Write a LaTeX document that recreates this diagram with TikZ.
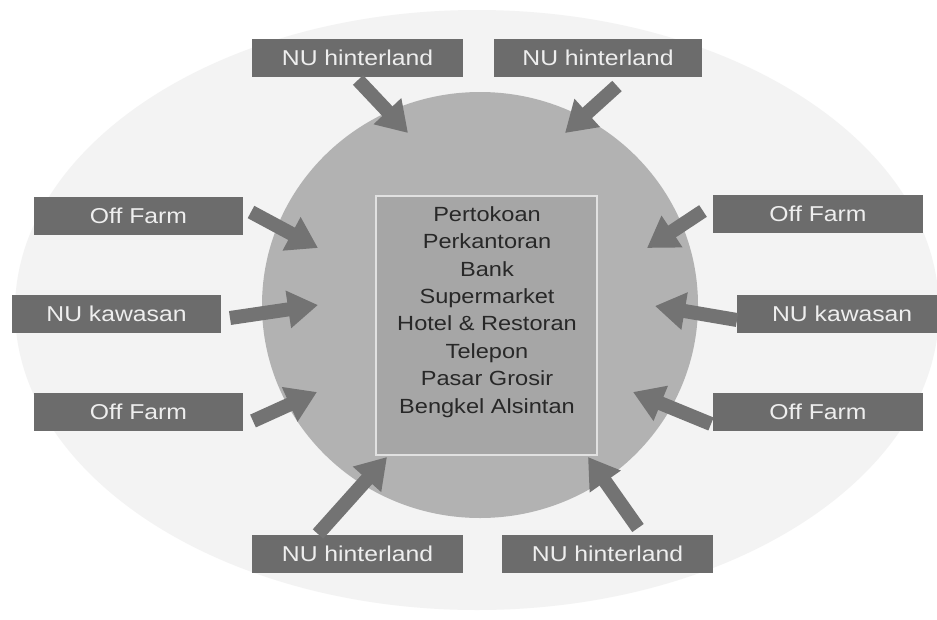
\documentclass[tikz,border=0pt]{standalone}
\usepackage{fontspec}
\setmainfont{Liberation Sans}
\newfontfamily\labfont[FakeStretch=1.15]{Liberation Sans}
\usetikzlibrary{arrows.meta}
\definecolor{outerfill}{RGB}{243,243,243}
\definecolor{corefill}{RGB}{178,178,178}
\definecolor{listfill}{RGB}{166,166,166}
\definecolor{listedge}{RGB}{225,225,225}
\definecolor{boxfill}{RGB}{108,108,108}
\definecolor{boxtext}{RGB}{238,238,238}
\definecolor{arrowgray}{RGB}{115,115,115}
\definecolor{listtext}{RGB}{40,40,40}
\tikzset{
  srcbox/.style={fill=boxfill, draw=none, inner sep=0pt, minimum height=38pt,
    text=boxtext, font=\labfont\fontsize{21.5}{24}\selectfont},
  flow/.style={draw=arrowgray, line width=14pt,
    -{Triangle[width=36pt,length=30pt]}},
}
\begin{document}
\begin{tikzpicture}[x=1pt,y=-1pt]
\useasboundingbox (0,0) rectangle (937,619);
\fill[white] (0,0) rectangle (937,619);
% regional zone and town core
\fill[outerfill] (477,310) ellipse [x radius=462, y radius=300];
\fill[corefill] (480,305) ellipse [x radius=218, y radius=213];
% list of urban facilities
\node[fill=listfill, draw=listedge, line width=1.2pt, minimum width=221pt,
  minimum height=259pt, inner sep=0pt] (core) at (486.5,325.5) {};
\node[text=listtext, align=center, font=\labfont\fontsize{20.5}{27.4}\selectfont,
  anchor=north] (list) at (487,203)
  {Pertokoan\\Perkantoran\\Bank\\Supermarket\\Hotel \& Restoran\\Telepon\\Pasar Grosir\\Bengkel Alsintan};
% source boxes
\node[srcbox, minimum width=211pt] (ntl) at (357.5,58) {NU hinterland};
\node[srcbox, minimum width=208pt] (ntr) at (598,58) {NU hinterland};
\node[srcbox, minimum width=209pt] (ofl1) at (138.5,216) {Off Farm};
\node[srcbox, minimum width=209pt] (nkl) at (116.5,314) {NU kawasan};
\node[srcbox, minimum width=209pt] (ofl2) at (138.5,411.5) {Off Farm};
\node[srcbox, minimum width=210pt] (ofr1) at (818,214) {Off Farm};
\node[srcbox, minimum width=210pt, anchor=west] (nkr) at (737,314) {NU kawasan};
\node[srcbox, minimum width=210pt] (ofr2) at (818,411.5) {Off Farm};
\node[srcbox, minimum width=211pt] (nbl) at (357.5,554) {NU hinterland};
\node[srcbox, minimum width=211pt] (nbr) at (607.5,554) {NU hinterland};
% arrow ends
\coordinate (a1s) at (358,80);  \coordinate (a1e) at (408,133);
\coordinate (a2s) at (617,86);  \coordinate (a2e) at (565,133);
\coordinate (a3s) at (251,212); \coordinate (a3e) at (318,248);
\coordinate (a4s) at (230,318); \coordinate (a4e) at (318,305);
\coordinate (a5s) at (253,421); \coordinate (a5e) at (317,392);
\coordinate (a6s) at (703,211); \coordinate (a6e) at (647,248);
\coordinate (a7s) at (737,320); \coordinate (a7e) at (655,306);
\coordinate (a8s) at (711,424); \coordinate (a8e) at (633,392);
\coordinate (a9s) at (318,534); \coordinate (a9e) at (387,457);
\coordinate (a10s) at (638,528); \coordinate (a10e) at (588,457);
% flows into the core
\draw[flow] (a1s) -- (a1e);
\draw[flow] (a2s) -- (a2e);
\draw[flow] (a3s) -- (a3e);
\draw[flow] (a4s) -- (a4e);
\draw[flow] (a5s) -- (a5e);
\draw[flow] (a6s) -- (a6e);
\draw[flow] (a7s) -- (a7e);
\draw[flow] (a8s) -- (a8e);
\draw[flow] (a9s) -- (a9e);
\draw[flow] (a10s) -- (a10e);
\end{tikzpicture}
\end{document}
